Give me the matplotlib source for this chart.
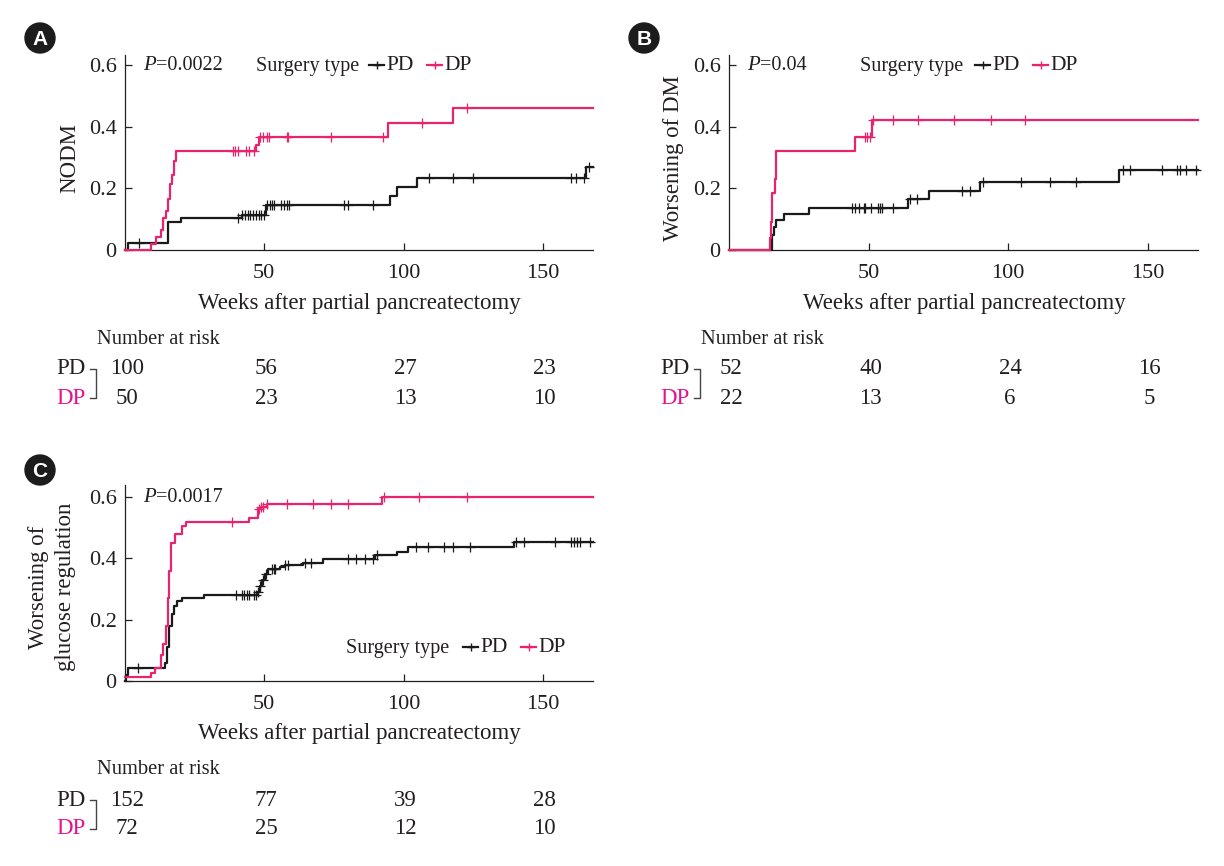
import matplotlib
matplotlib.use('Agg')
import matplotlib.pyplot as plt
from matplotlib.patches import Circle
from matplotlib.transforms import blended_transform_factory

plt.rcParams['font.family'] = ['Liberation Serif', 'DejaVu Serif']

BLACK = '#1a1a1a'
PINK = '#e8246f'
MAGENTA = '#e6128c'
TEXT = '#231f20'

# panel A
a_pd_x = [0, 1, 15.3, 20, 42, 50.6, 95, 97.6, 105, 165.4, 168]
a_pd_y = [0, 0.022, 0.09, 0.103, 0.112, 0.147, 0.175, 0.205, 0.235, 0.27, 0.27]
a_pd_cens = [5, 40.5, 42, 43, 44, 45, 46, 47, 48, 49, 50, 51, 52, 52.7, 53.5, 56, 57, 58, 59,
             78.5, 80, 89, 109, 117.6, 125, 160, 162, 164.6, 166.5]
a_dp_x = [0, 9.2, 11, 13, 13.7, 14.8, 15.5, 16, 16.9, 17.7, 18.3, 47.1, 48, 94.5, 117.8, 168]
a_dp_y = [0, 0.02, 0.043, 0.065, 0.103, 0.125, 0.165, 0.215, 0.243, 0.29, 0.32, 0.34, 0.368,
          0.412, 0.46, 0.46]
a_dp_cens = [38.8, 39.6, 40.4, 43.6, 44.6, 46.4, 48.5, 49.5, 51, 51.7, 58, 58.4, 74, 92.5,
             106.7, 122.9]

# panel B
b_pd_x = [0, 15.5, 16, 16.8, 19.6, 28.8, 64, 71.6, 90, 139.8, 168]
b_pd_y = [0, 0.05, 0.075, 0.097, 0.117, 0.137, 0.165, 0.19, 0.222, 0.26, 0.26]
b_pd_cens = [44, 45, 46.5, 48.2, 48.8, 51, 53.5, 54.2, 54.9, 58.7, 65, 67.2, 83.5, 86.3, 91,
             104.7, 115, 124.4, 141, 143.6, 155, 160.6, 161.7, 163.8, 167.3]
b_dp_x = [0, 14.8, 15.2, 15.5, 16.3, 17, 45, 51.4, 168]
b_dp_y = [0, 0.04, 0.09, 0.185, 0.23, 0.32, 0.367, 0.42, 0.42]
b_dp_cens = [48.6, 49.3, 50.4, 51.7, 58.7, 67.7, 80.6, 94, 106]

# panel C
c_pd_x = [0, 0.5, 1, 14.4, 15, 15.8, 16.9, 17.7, 18.5, 20.4, 28.3, 47.4, 48.3, 49.2, 50.2, 51.3,
          55.5, 57.6, 63.9, 71, 89.7, 97.6, 101.5, 139.6, 168]
c_pd_y = [0, 0.02, 0.042, 0.06, 0.11, 0.18, 0.22, 0.245, 0.26, 0.272, 0.28, 0.29, 0.31, 0.33,
          0.35, 0.365, 0.372, 0.378, 0.385, 0.397, 0.41, 0.42, 0.436, 0.452, 0.452]
c_pd_cens = [4.6, 40, 42, 42.7, 43.7, 44.6, 46.4, 47, 47.7, 48.5, 49.5, 50.5, 52.7, 53.4, 54,
             57.6, 58.6, 64.6, 66.7, 80, 83, 86, 89, 90.5, 104.3, 108.6, 114.5, 117.6, 124,
             140.3, 143.4, 154.5, 160, 161.2, 162.2, 163.2, 167]
c_dp_x = [0, 9.2, 10.6, 13, 13.7, 14.6, 15.3, 15.9, 16.6, 18, 20.4, 22, 44.4, 47.6, 48.8, 50.8,
          92.2, 168]
c_dp_y = [0.012, 0.025, 0.043, 0.085, 0.12, 0.18, 0.27, 0.36, 0.45, 0.48, 0.505, 0.52, 0.533,
          0.56, 0.567, 0.577, 0.6, 0.6]
c_dp_cens = [38.5, 48, 49, 49.7, 50.8, 58, 67.4, 74, 80, 93, 105.7, 122.9]

risk_times = [0, 50, 100, 150]
a_risk_pd = [100, 56, 27, 23]
a_risk_dp = [50, 23, 13, 10]
b_risk_pd = [52, 40, 24, 16]
b_risk_dp = [22, 13, 6, 5]
c_risk_pd = [152, 77, 39, 28]
c_risk_dp = [72, 25, 12, 10]

W, H = 1224, 866
fig = plt.figure(figsize=(W / 100, H / 100), dpi=100)

# overlay in pixel coordinates for the annotations
over = fig.add_axes([0, 0, 1, 1], zorder=5)
over.set_xlim(0, W)
over.set_ylim(H, 0)
over.axis('off')
over.patch.set_alpha(0)


def value_at(xs, ys, t):
    y = ys[0]
    for x0, y0 in zip(xs, ys):
        if x0 <= t:
            y = y0
    return y


def draw_curve(ax, xs, ys, cens, color):
    ax.step(xs, ys, where='post', color=color, lw=1.6, clip_on=False, zorder=3)
    ax.plot(cens, [value_at(xs, ys, t) for t in cens], ls='none', marker='+', ms=6.5, mew=0.9,
            color=color, clip_on=False, zorder=3)


def legend_item(x, y, label, color):
    over.plot([x, x + 15], [y, y], color=color, lw=1.6)
    over.plot([x + 7.5], [y], marker='+', ms=6, mew=1, color=color)
    over.text(x + 17, y + 0.5, label, fontsize=15.5, color=TEXT, va='center', ha='left')


def panel(letter, left, right, y0, y6, ytop, badge, ylabel, pd_data, dp_data, risk_pd, risk_dp,
          p_text, p_x, legend_pos):
    bottom_frac = 1 - y0 / H
    height_px = y0 - ytop
    ax = fig.add_axes([left / W, bottom_frac, (right - left) / W, height_px / H])
    ax.set_xlim(0, 168)
    ax.set_ylim(0, (y0 - ytop) / (y0 - y6) * 0.6)
    for s in ['top', 'right']:
        ax.spines[s].set_visible(False)
    for s in ['left', 'bottom']:
        ax.spines[s].set_linewidth(0.9)
        ax.spines[s].set_color(TEXT)
    ax.set_xticks([50, 100, 150])
    ax.set_yticks([0, 0.2, 0.4, 0.6])
    ax.set_yticklabels(['0', '0.2', '0.4', '0.6'])
    ax.tick_params(direction='in', length=5, width=0.9, labelsize=16, colors=TEXT, pad=6)
    ax.tick_params(axis='x', pad=10)
    draw_curve(ax, *pd_data, BLACK)
    draw_curve(ax, *dp_data, PINK)

    over.add_patch(Circle(badge, 15, color='#1c1c1c', zorder=4))
    over.text(badge[0], badge[1] + 1.5, letter, color='white', fontsize=15, fontweight='bold',
              family='Liberation Sans', ha='center', va='center', zorder=5)

    cx = (left + right) / 2
    over.text(cx + 0.5, y0 + 53, 'Weeks after partial pancreatectomy', fontsize=16.5, color=TEXT,
              ha='center', va='center')
    if '\n' in ylabel:
        over.text(52, 587, ylabel, fontsize=16.5, color=TEXT, rotation=90,
                  ha='center', va='center', linespacing=1.4, multialignment='center')
    else:
        over.text(left - 55, 158, ylabel, fontsize=16.5,
                  color=TEXT, rotation=90, ha='center', va='center')

    py = y6 + 0.5
    over.text(p_x, py, 'P', fontsize=15, style='italic', color=TEXT, ha='left', va='center')
    over.text(p_x + 13, py, p_text, fontsize=14.5, color=TEXT, ha='left', va='center')

    lx, ly, sx = legend_pos
    over.text(lx, ly + 1, 'Surgery type', fontsize=14.5, color=TEXT, ha='left', va='center')
    legend_item(sx, ly, 'PD', BLACK)
    legend_item(sx + 58, ly, 'DP', PINK)

    # number at risk table
    ty = y0 + 89
    trans = blended_transform_factory(ax.transData, over.transData)
    over.text(left - 28, ty, 'Number at risk', fontsize=14.8, color=TEXT, ha='left', va='center')
    r1, r2 = y0 + 119, y0 + 148
    for t, n1, n2 in zip(risk_times, risk_pd, risk_dp):
        over.text(t + 0.7, r1, str(n1), transform=trans, fontsize=16.5, color=TEXT, ha='center',
                  va='center')
        over.text(t + 0.7, r2, str(n2), transform=trans, fontsize=16.5, color=TEXT, ha='center',
                  va='center')
    over.text(left - 54, r1, 'PD', fontsize=16.5, color=TEXT, ha='center', va='center')
    over.text(left - 54, r2, 'DP', fontsize=16.5, color=MAGENTA, ha='center', va='center')
    over.plot([left - 35, left - 29, left - 29, left - 35],
              [r1, r1, r2, r2], color='#444444', lw=1)
    return ax


panel('A', 125, 593, 250, 65, 55, (40, 38), 'NODM',
      (a_pd_x, a_pd_y, a_pd_cens), (a_dp_x, a_dp_y, a_dp_cens), a_risk_pd, a_risk_dp,
      '=0.0022', 143, (256, 65, 369))
panel('B', 729, 1198, 250, 65, 55, (644, 38), 'Worsening of DM',
      (b_pd_x, b_pd_y, b_pd_cens), (b_dp_x, b_dp_y, b_dp_cens), b_risk_pd, b_risk_dp,
      '=0.04', 747, (860, 65, 975))
panel('C', 125, 593, 681, 497, 485, (40, 470), 'Worsening of\nglucose regulation',
      (c_pd_x, c_pd_y, c_pd_cens), (c_dp_x, c_dp_y, c_dp_cens), c_risk_pd, c_risk_dp,
      '=0.0017', 143, (346, 647, 463))

fig.savefig('out.png', dpi=100)
